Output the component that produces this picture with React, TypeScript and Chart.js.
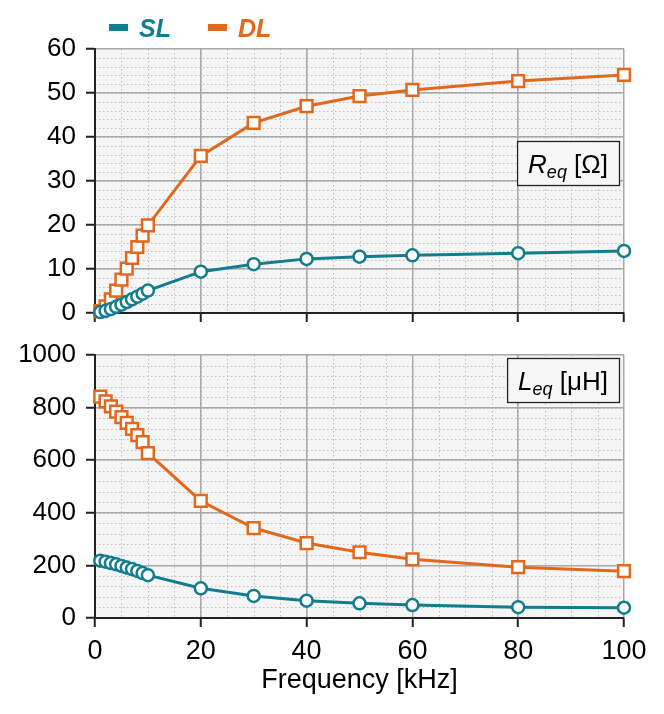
import { useEffect, useRef } from "react"
import { Chart, registerables } from "chart.js"

Chart.register(...registerables)

// frequency points [kHz]
const freq = [1, 2, 3, 4, 5, 6, 7, 8, 9, 10, 20, 30, 40, 50, 60, 80, 100]

// equivalent resistance [Ohm]
const reqSL = [0.2, 0.5, 0.9, 1.4, 1.9, 2.5, 3.1, 3.7, 4.4, 5.1, 9.4, 11.1, 12.3, 12.8, 13.1, 13.6, 14.1]
const reqDL = [0.4, 1.5, 3.1, 5.1, 7.6, 10.1, 12.5, 15.0, 17.6, 19.9, 35.7, 43.2, 47.0, 49.3, 50.7, 52.7, 54.1]

// equivalent inductance [uH]
const leqSL = [218, 214, 209, 204, 198, 192, 186, 179, 171, 163, 113, 84, 66, 56, 49, 41, 39]
const leqDL = [842, 824, 805, 785, 764, 742, 719, 695, 669, 627, 445, 342, 285, 250, 223, 193, 178]

const xTicks = [0, 20, 40, 60, 80, 100]
const legendNames = ["SL", "DL"]

const TEAL = "#117d8d"
const ORANGE = "#e2681e"
const FONT = "'Liberation Sans', Arial, sans-serif"

const pts = (ys: number[]) => freq.map((f, i) => ({ x: f, y: ys[i] }))

function datasets(sl: number[], dl: number[]) {
  return [
    {
      label: legendNames[0],
      data: pts(sl),
      borderColor: TEAL,
      borderWidth: 3,
      pointStyle: "circle",
      pointRadius: 6,
      pointBorderWidth: 2.5,
      pointBorderColor: TEAL,
      pointBackgroundColor: "#fff",
      clip: false,
    },
    {
      label: legendNames[1],
      data: pts(dl),
      borderColor: ORANGE,
      borderWidth: 3,
      pointStyle: "rect",
      pointRadius: 8.3,
      pointBorderWidth: 2.5,
      pointBorderColor: ORANGE,
      pointBackgroundColor: "#fff",
      clip: false,
    },
  ]
}

// grey plot area and dotted minor grid
const minorGrid = {
  id: "minorGrid",
  beforeDraw(chart: any, _a: any, o: any) {
    const { ctx, chartArea: a, scales } = chart
    ctx.save()
    ctx.fillStyle = "#f5f5f5"
    ctx.fillRect(a.left, a.top, a.right - a.left, a.bottom - a.top)
    ctx.strokeStyle = "#bdbdbd"
    ctx.lineWidth = 1
    ctx.setLineDash([1.5, 2.5])
    for (let v = o.xStep; v < scales.x.max; v += o.xStep) {
      const p = Math.round(scales.x.getPixelForValue(v)) + 0.5
      ctx.beginPath()
      ctx.moveTo(p, a.top)
      ctx.lineTo(p, a.bottom)
      ctx.stroke()
    }
    for (let v = o.yStep; v < scales.y.max; v += o.yStep) {
      const p = Math.round(scales.y.getPixelForValue(v)) + 0.5
      ctx.beginPath()
      ctx.moveTo(a.left, p)
      ctx.lineTo(a.right, p)
      ctx.stroke()
    }
    ctx.restore()
  },
}

// boxed quantity label, e.g. R_eq [Ω]
const quantityBox = {
  id: "quantityBox",
  afterDraw(chart: any, _a: any, o: any) {
    if (!o.main) return
    const { ctx, chartArea: a } = chart
    const fMain = `italic 26px ${FONT}`
    const fSub = `italic 18px ${FONT}`
    const fRest = `26px ${FONT}`
    ctx.save()
    ctx.font = fMain
    const w1 = ctx.measureText(o.main).width
    ctx.font = fSub
    const w2 = ctx.measureText(o.sub).width
    ctx.font = fRest
    const w3 = ctx.measureText(o.rest).width
    const w = w1 + w2 + w3 + 22
    const h = 44
    const right = a.right - 5
    const left = right - w
    const top = a.top + o.dy
    ctx.fillStyle = "#f7f7f7"
    ctx.fillRect(left, top, w, h)
    ctx.strokeStyle = "#222"
    ctx.lineWidth = 1.3
    ctx.strokeRect(left + 0.5, top + 0.5, w, h)
    ctx.fillStyle = "#000"
    ctx.textBaseline = "alphabetic"
    let x = left + 11
    const base = top + 32
    ctx.font = fMain
    ctx.fillText(o.main, x, base)
    x += w1
    ctx.font = fSub
    ctx.fillText(o.sub, x, base + 5)
    x += w2
    ctx.font = fRest
    ctx.fillText(o.rest, x, base)
    ctx.restore()
  },
}

// legend row above the top plot
const legendRow = {
  id: "legendRow",
  afterDraw(chart: any, _a: any, o: any) {
    if (!o.show) return
    const { ctx } = chart
    ctx.save()
    ctx.font = `bold italic 25px ${FONT}`
    ctx.textBaseline = "alphabetic"
    let x = 109
    chart.data.datasets.forEach((ds: any) => {
      ctx.fillStyle = ds.borderColor
      ctx.fillRect(x, 24, 19, 7)
      ctx.fillText(ds.label, x + 30, 37)
      x += 30 + ctx.measureText(ds.label).width + 37
    })
    ctx.restore()
  },
}

function makeOptions(cfg: {
  yMax: number
  yStep: number
  yMinor: number
  showX: boolean
  padTop: number
  xHeight: number
  box: any
  legend: boolean
}) {
  return {
    responsive: false,
    animation: false as const,
    layout: { padding: { top: cfg.padTop, right: 40, left: 0, bottom: 0 } },
    plugins: {
      legend: { display: false },
      tooltip: { enabled: false },
      minorGrid: { xStep: 5, yStep: cfg.yMinor },
      quantityBox: cfg.box,
      legendRow: { show: cfg.legend },
    },
    scales: {
      x: {
        type: "linear" as const,
        min: 0,
        max: 100,
        afterBuildTicks: (s: any) => {
          s.ticks = xTicks.map((v) => ({ value: v }))
        },
        afterFit: (s: any) => {
          s.height = cfg.xHeight
          s.paddingLeft = 0
          s.paddingRight = 0
        },
        ticks: {
          display: cfg.showX,
          color: "#000",
          padding: 8,
          font: { family: FONT, size: 27 },
          maxRotation: 0,
          callback: (v: any) => String(v),
        },
        grid: {
          color: "#a9a9a9",
          lineWidth: 1.5,
          tickColor: "#222",
          tickWidth: 2,
          tickLength: 9,
        },
        border: { color: "#222", width: 2 },
        title: {
          display: cfg.showX,
          text: "Frequency [kHz]",
          color: "#000",
          font: { family: FONT, size: 27 },
          padding: { top: 0, bottom: 17 },
        },
      },
      y: {
        type: "linear" as const,
        min: 0,
        max: cfg.yMax,
        afterFit: (s: any) => {
          s.width = 95
          s.paddingTop = 0
          s.paddingBottom = 0
        },
        ticks: {
          stepSize: cfg.yStep,
          color: "#000",
          padding: 10,
          font: { family: FONT, size: 26 },
          callback: (v: any) => String(v),
        },
        grid: {
          color: "#a9a9a9",
          lineWidth: 1.5,
          tickColor: "#222",
          tickWidth: 2,
          tickLength: 9,
        },
        border: { color: "#222", width: 2 },
      },
    },
  }
}

function Panel(props: { sl: number[]; dl: number[]; height: number; top: number; opts: any }) {
  const ref = useRef<HTMLCanvasElement | null>(null)

  useEffect(() => {
    if (!ref.current) return
    const chart = new Chart(ref.current, {
      type: "line",
      data: { datasets: datasets(props.sl, props.dl) as any },
      options: props.opts,
      plugins: [minorGrid, quantityBox, legendRow],
    })
    return () => {
      chart.destroy()
    }
  }, [])

  return (
    <canvas
      ref={ref}
      width={664}
      height={props.height}
      style={{ position: "absolute", left: 0, top: props.top }}
    ></canvas>
  )
}

export default function App() {
  const topOpts = makeOptions({
    yMax: 60,
    yStep: 10,
    yMinor: 2,
    showX: false,
    padTop: 49,
    xHeight: 22,
    box: { main: "R", sub: "eq", rest: " [Ω]", dy: 92 },
    legend: true,
  })
  const bottomOpts = makeOptions({
    yMax: 1000,
    yStep: 200,
    yMinor: 40,
    showX: true,
    padTop: 20,
    xHeight: 96,
    box: { main: "L", sub: "eq", rest: " [μH]", dy: 3 },
    legend: false,
  })

  return (
    <div style={{ position: "absolute", left: 0, top: 0, width: 664, height: 714, background: "#fff" }}>
      <Panel sl={reqSL} dl={reqDL} height={335} top={0} opts={topOpts} />
      <Panel sl={leqSL} dl={leqDL} height={379} top={335} opts={bottomOpts} />
    </div>
  )
}
